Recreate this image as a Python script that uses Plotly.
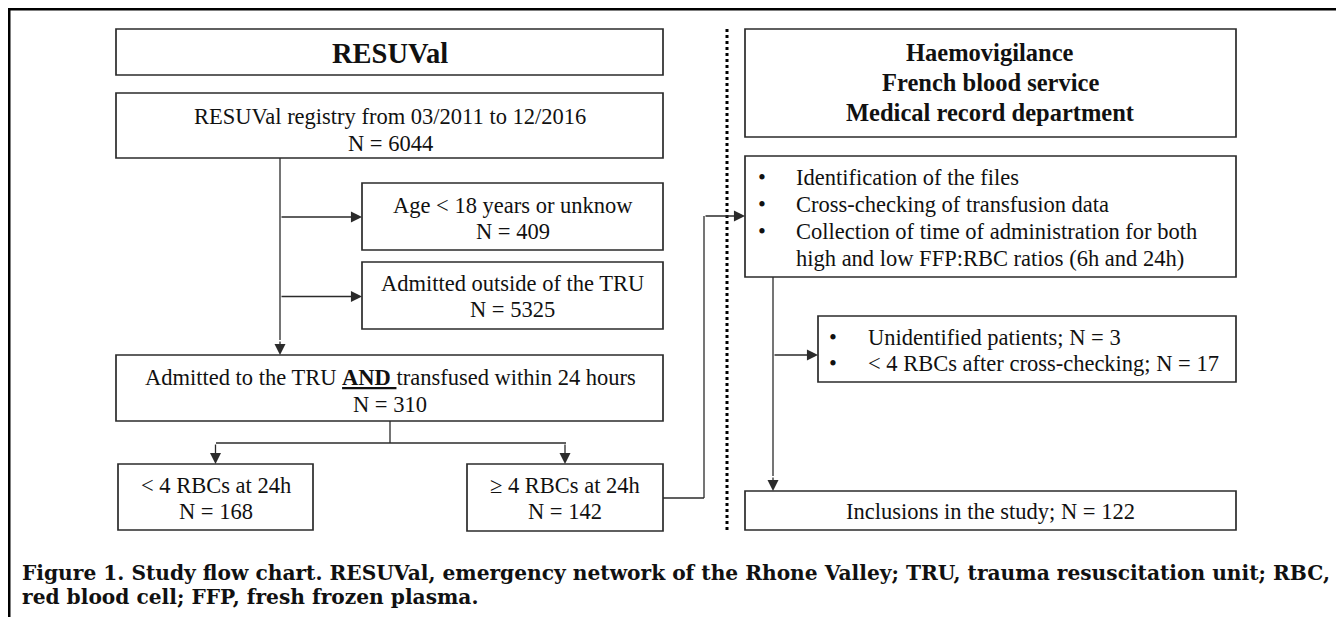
import plotly.graph_objects as go

# ---------------- data ----------------
left_header = "RESUVal"
right_header = ["Haemovigilance", "French blood service", "Medical record department"]
registry_label = "RESUVal registry from 03/2011 to 12/2016"
registry_n = 6044
excl_labels = ["Age < 18 years or unknow", "Admitted outside of the TRU"]
excl_n = [409, 5325]
tru_label = "Admitted to the TRU <b><u>AND </u></b>transfused within 24 hours"
tru_n = 310
split_labels = ["< 4 RBCs at 24h", "\u2265 4 RBCs at 24h"]
split_n = [168, 142]
review_steps = ["Identification of the files",
                "Cross-checking of transfusion data",
                "Collection of time of administration for both",
                "high and low FFP:RBC ratios (6h and 24h)"]
review_excl_labels = ["Unidentified patients", "< 4 RBCs after cross-checking"]
review_excl_n = [3, 17]
included_label = "Inclusions in the study"
included_n = 122
caption_lines = ["Figure 1. Study flow chart. RESUVal, emergency network of the Rhone Valley; TRU, trauma resuscitation unit; RBC,",
                 "red blood cell; FFP, fresh frozen plasma."]

W, H = 1344, 617
OFF = 8  # page body margin
LINE = "#2b2b2b"
TXT = "#111111"
SERIF = "Liberation Serif, Times New Roman, serif"
CAP_FONT = "DejaVu Serif, serif"
BODY = 22.5

fig = go.Figure()
fig.add_trace(go.Scatter(x=[OFF, W], y=[OFF, H], mode="markers", marker=dict(opacity=0),
                         hoverinfo="skip", showlegend=False))

shapes = []
annots = []

def box(x0, y0, x1, y1):
    shapes.append(dict(type="rect", x0=x0, y0=y0, x1=x1, y1=y1, xref="x", yref="y",
                       line=dict(color=LINE, width=1.7), fillcolor="white", layer="above"))

def seg(x0, y0, x1, y1, width=1.3, dash=None, color=LINE):
    ln = dict(color=color, width=width)
    if dash:
        ln["dash"] = dash
    shapes.append(dict(type="line", x0=x0, y0=y0, x1=x1, y1=y1, xref="x", yref="y", line=ln, layer="above"))

def arrow(x0, y0, x1, y1):
    annots.append(dict(x=x1, y=y1, ax=x0, ay=y0, xref="x", yref="y", axref="x", ayref="y",
                       showarrow=True, arrowhead=2, arrowsize=1.7, arrowwidth=1.3, arrowcolor=LINE,
                       standoff=0, startstandoff=0, text=""))

def text(x, y, s, size=BODY, bold=False, xanchor="center", font=SERIF):
    if bold:
        s = "<b>" + s + "</b>"
    annots.append(dict(x=x, y=y, xref="x", yref="y", text=s, showarrow=False,
                       xanchor=xanchor, yanchor="middle",
                       font=dict(family=font, size=size, color=TXT)))

def lines(x, ys, strs, **kw):
    for y, s in zip(ys, strs):
        text(x, y, s, **kw)

# outer frame (clipped at right/bottom)
seg(OFF - 5, 9, W + 5, 9, width=3, color="#000")
seg(9, OFF - 5, 9, H + 5, width=3, color="#000")

# ---------------- left column ----------------
box(116, 29, 663, 75)
text(390, 53, left_header, size=28.5, bold=True)

box(116, 93, 663, 158)
lines(390, [116.5, 143.5], [registry_label, f"N = {registry_n}"])

ex_boxes = [(362, 183, 663, 250), (362, 262, 663, 329)]
ex_text_y = [[205, 231.5], [283, 309.5]]
ex_arrow_y = [217, 296.5]
for (x0, y0, x1, y1), ty, ay, lab, n in zip(ex_boxes, ex_text_y, ex_arrow_y, excl_labels, excl_n):
    box(x0, y0, x1, y1)
    lines((x0 + x1) / 2, ty, [lab, f"N = {n}"])
    arrow(280, ay, x0, ay)

box(116, 355, 663, 421)
lines(390, [377, 404], [tru_label, f"N = {tru_n}"])
seg(280, 158, 280, 340)
arrow(280, 340, 280, 355)

sp_boxes = [(118, 464, 313, 530), (467, 464, 663, 531)]
seg(390, 421, 390, 443)
seg(216, 443, 566, 443)
for (x0, y0, x1, y1), lab, n in zip(sp_boxes, split_labels, split_n):
    box(x0, y0, x1, y1)
    cx = (x0 + x1) / 2
    lines(cx, [485.5, 511.5], [lab, f"N = {n}"])
    arrow(cx, 443, cx, y0)

# connector from >=4 RBC box to review box
seg(663, 498, 704, 498)
seg(704, 498, 704, 216)
arrow(704, 216, 745, 216)

# dotted separator
seg(727, 29, 727, 531, width=3, dash="dot", color="#000")

# ---------------- right column ----------------
box(745, 29, 1236, 137)
lines(990, [52, 82, 112], right_header, size=24.5, bold=True)

box(745, 156, 1236, 277)
ys = [177, 204, 231, 258]
for i, (y, s) in enumerate(zip(ys, review_steps)):
    if i < 3:
        text(762, y, "\u2022", xanchor="center")
    text(794, y, s, xanchor="left")

box(818, 316, 1236, 382)
for y, lab, n in zip([337, 363.5], review_excl_labels, review_excl_n):
    text(833, y, "\u2022", xanchor="center")
    text(866, y, f"{lab}; N = {n}", xanchor="left")
seg(773, 277, 773, 476)
arrow(773, 355, 818, 355)
arrow(773, 476, 773, 491)

box(745, 491, 1236, 530)
text(990, 511.5, f"{included_label}; N = {included_n}")

# ---------------- caption ----------------
for y, s in zip([573, 597], caption_lines):
    text(20, y, s, size=20.2, bold=True, xanchor="left", font=CAP_FONT)

fig.update_layout(
    width=W - OFF, height=H - OFF, margin=dict(l=0, r=0, t=0, b=0),
    paper_bgcolor="white", plot_bgcolor="white",
    xaxis=dict(range=[OFF, W], visible=False, fixedrange=True),
    yaxis=dict(range=[H, OFF], visible=False, fixedrange=True),
    shapes=shapes, annotations=annots, showlegend=False,
)
fig.write_html("out.html")
